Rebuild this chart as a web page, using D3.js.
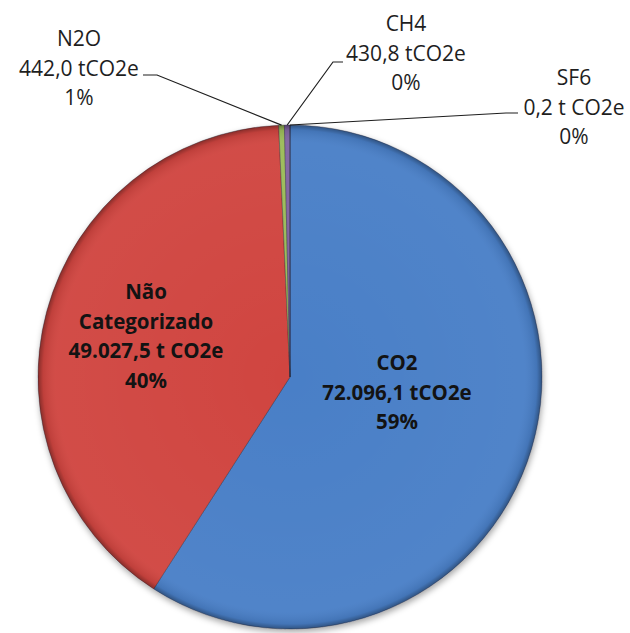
<!DOCTYPE html>
<html>
<head>
<meta charset="utf-8">
<script src="https://cdn.jsdelivr.net/npm/d3@7"></script>
<style>
  body { margin: 0; background: #fff; }
  svg { display: block; }
  text { font-family: "Open Sans", "Noto Sans", sans-serif; }
</style>
</head>
<body>
<div id="chart"></div>
<script>
/* emissions by gas — pie with Excel-style labels */
const GASES = ['CO2', 'Não Categorizado', 'N2O', 'CH4', 'SF6'];
const EMISSIONS = [72096.1, 49027.5, 442.0, 430.8, 0.2];
const VALUE_LABELS = ['72.096,1 tCO2e', '49.027,5 t CO2e', '442,0 tCO2e', '430,8 tCO2e', '0,2 t CO2e'];
const PCT_LABELS = ['59%', '40%', '1%', '0%', '0%'];

const COLORS = ['#4a7fc7', '#d0453f', '#9bbb59', '#8064a2', '#4bacc6'];

const W = 630, H = 633;
const cx = 290, cy = 377, R = 252;
const LINE = 29.5;

/* label anchors (first baseline) + leader tick for the outside ones */
const LAYOUT = {
  'CO2': { x: 397, y: 370, bold: true },
  'Não Categorizado': { x: 146, y: 299, bold: true },
  'N2O': { x: 79, y: 46, tick: [143, 157, 75] },
  'CH4': { x: 406, y: 31, tick: [343, 333, 62] },
  'SF6': { x: 574, y: 85, tick: [518, 506, 113] }
};

const data = GASES.map((g, i) => ({ gas: g, value: EMISSIONS[i], txt: VALUE_LABELS[i], pct: PCT_LABELS[i], i }));

const svg = d3.select('#chart').append('svg')
  .attr('width', W).attr('height', H)
  .attr('viewBox', `0 0 ${W} ${H}`);

const defs = svg.append('defs');
const sh = defs.append('filter').attr('id', 'shadow')
  .attr('x', '-10%').attr('y', '-10%').attr('width', '120%').attr('height', '120%');
sh.append('feDropShadow').attr('dx', 1).attr('dy', 3).attr('stdDeviation', 3)
  .attr('flood-color', '#000').attr('flood-opacity', 0.35);

const rim = defs.append('radialGradient').attr('id', 'rim')
  .attr('gradientUnits', 'userSpaceOnUse')
  .attr('cx', cx).attr('cy', cy).attr('r', R);
rim.append('stop').attr('offset', '0%').attr('stop-color', '#fff').attr('stop-opacity', 0);
rim.append('stop').attr('offset', '93%').attr('stop-color', '#fff').attr('stop-opacity', 0.04);
rim.append('stop').attr('offset', '98%').attr('stop-color', '#000').attr('stop-opacity', 0.08);
rim.append('stop').attr('offset', '100%').attr('stop-color', '#000').attr('stop-opacity', 0.35);

const pie = d3.pie().sort(null).value((d) => d.value);
const arcs = pie(data);
const arc = d3.arc().innerRadius(0).outerRadius(R);
const edge = d3.arc().innerRadius(R).outerRadius(R);

const g = svg.append('g').attr('transform', `translate(${cx},${cy})`);

g.append('g').attr('filter', 'url(#shadow)')
  .selectAll('path').data(arcs).join('path')
  .attr('d', arc)
  .attr('fill', (d) => COLORS[d.data.i])
  .attr('stroke', 'rgba(40,40,60,0.45)')
  .attr('stroke-width', 0.8);

g.append('circle').attr('r', R).attr('fill', 'url(#rim)')
  .attr('transform', `translate(${-cx},${-cy})`).attr('cx', cx).attr('cy', cy);

/* leader lines for the thin slices */
const lines = svg.append('g').attr('fill', 'none').attr('stroke', '#1e1e1e').attr('stroke-width', 1.2);
arcs.forEach((a) => {
  const L = LAYOUT[a.data.gas];
  if (!L.tick) return;
  const [px, py] = edge.centroid(a);
  const [x0, x1, ty] = L.tick;
  lines.append('path')
    .attr('d', `M${x0},${ty}L${x1},${ty}L${cx + px},${cy + py}`);
});

/* labels */
const labels = svg.append('g').attr('text-anchor', 'middle');
data.forEach((d) => {
  const L = LAYOUT[d.gas];
  const rows = d.gas.split(' ').concat([d.txt, d.pct]);
  const t = labels.append('text')
    .attr('x', L.x).attr('y', L.y)
    .attr('font-size', L.bold ? '20.5px' : '21px')
    .attr('font-weight', L.bold ? 700 : 400)
    .attr('fill', L.bold ? '#131313' : '#1e1e1e');
  rows.forEach((r, k) => {
    t.append('tspan').attr('x', L.x).attr('y', L.y + k * LINE).text(r);
  });
});
</script>
</body>
</html>
